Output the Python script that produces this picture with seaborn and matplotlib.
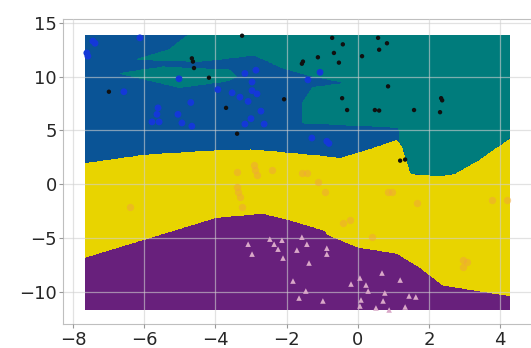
import numpy as np
import pandas as pd
import matplotlib
matplotlib.use("Agg")
import matplotlib.pyplot as plt
from matplotlib.colors import ListedColormap
from matplotlib.path import Path
import seaborn as sns

# region colours: purple, yellow, blue, teal
region_colors = ["#68207c", "#e8d400", "#0a5496", "#007c7c"]

# boundary between purple (below) and yellow (above)
purple_top_x = [-7.7, -3.96, -2.66, -1.9, -0.9, -0.87, -0.02, 1.1, 1.75, 2.4, 3.24, 4.3]
purple_top_y = [-6.8, -3.05, -2.7, -3.3, -4.3, -4.6, -5.8, -6.4, -7.7, -9.35, -9.8, -10.35]

# boundary between yellow (below) and blue/teal (above)
yellow_top_x = [-7.7, -6.0, -4.0, -3.0, -2.0, -1.0, -0.5, 0.4, 1.1, 1.25, 1.5, 2.3, 2.7, 3.35, 4.3]
yellow_top_y = [2.0, 2.8, 3.2, 3.3, 3.0, 2.7, 2.5, 3.4, 4.2, 3.6, 1.0, 0.8, 1.0, 2.2, 4.4]

# teal areas inside the upper part
teal_main_x = [-4.71, 4.4, 4.4, 1.2, 1.15, -0.22, -1.54, -1.54, -1.26, -0.3, -1.34, -2.1, -2.9, -4.5, -6.2, -5.3, -4.71]
teal_main_y = [14.0, 14.0, -1.0, -1.0, 5.3, 5.5, 5.7, 7.6, 9.0, 9.4, 10.1, 10.8, 12.0, 11.4, 11.6, 12.5, 14.0]
teal_tongue_x = [-6.68, -5.47, -3.6, -3.4, -3.67, -5.0]
teal_tongue_y = [10.3, 10.9, 10.6, 10.0, 9.6, 9.0]

# sample points
blue_x = [-7.44, -7.38, -7.61, -7.58, -6.12, -5.02, -6.57, -5.61, -5.64, -5.78, -5.58, -5.05, -4.94,
          -4.69, -4.66, -3.93, -3.53, -3.31, -3.17, -2.86, -2.97, -2.97, -2.83, -3.08, -2.72, -3.0,
          -3.17, -2.63, -1.06, -1.40, -1.29, -0.87, -0.81]
blue_y = [13.3, 13.1, 12.2, 11.9, 13.6, 9.8, 8.6, 7.1, 6.5, 5.8, 5.8, 6.5, 5.7,
          7.6, 5.4, 8.8, 8.5, 8.1, 10.3, 10.6, 9.5, 8.7, 8.4, 7.7, 6.8, 6.1,
          5.6, 5.6, 10.4, 9.7, 4.3, 4.0, 3.8]

black_x = [-3.25, -4.66, -4.63, -4.60, -6.99, -4.18, -3.70, -3.39, -2.07, -0.72, -0.42, -0.67, -0.53,
           -1.54, -1.57, -1.12, 0.57, 0.82, 0.60, 0.12, 0.85, -0.44, -0.30, 0.48, 0.60, 1.58,
           2.34, 2.37, 2.31, 1.19, 1.33]
black_y = [13.8, 11.7, 11.4, 10.8, 8.6, 9.9, 7.1, 4.7, 7.9, 13.6, 13.0, 12.2, 11.3,
           11.4, 11.2, 11.8, 13.6, 13.1, 12.5, 11.9, 9.1, 8.0, 6.9, 6.9, 6.85, 6.9,
           8.0, 7.8, 6.7, 2.2, 2.3]

orange_x = [-3.39, -2.89, -2.83, -2.41, -3.39, -3.37, -1.57, -1.43, -1.12, -0.92, -2.92, -6.40, -3.31,
            0.85, 0.96, 1.66, -0.42, -0.22, 0.40, 2.96, 2.96, 3.07, 3.77, 4.19, -3.25]
orange_y = [1.11, 1.30, 0.83, 1.30, -0.28, -0.74, 1.02, 1.02, 0.19, -0.74, 1.76, -2.13, -1.20,
            -0.74, -0.74, -1.76, -3.61, -3.33, -4.91, -7.04, -7.69, -7.22, -1.48, -1.48, -2.13]

tri_x = [-3.08, -2.97, -2.47, -2.35, -2.24, -2.13, -2.10, -1.71, -1.57, -1.43, -1.37, -0.87, -0.87,
         -1.82, -1.46, -1.65, -0.98, -0.19, 0.06, 0.23, 0.29, 0.09, 0.06, 0.68, 0.76, 0.71,
         0.51, 0.88, 1.19, 1.33, 1.44, 1.63]
tri_y = [-5.56, -6.48, -5.09, -5.56, -6.02, -5.19, -6.85, -6.11, -4.91, -5.56, -7.31, -5.93, -6.48,
         -8.98, -9.91, -10.56, -10.83, -9.26, -8.70, -9.35, -9.91, -10.74, -11.30, -8.24, -10.09, -10.83,
         -11.48, -11.67, -8.89, -11.39, -10.37, -10.46]

# build class grid
xs = np.linspace(-7.65, 4.25, 700)
ys = np.linspace(-11.6, 13.8, 700)
gx, gy = np.meshgrid(xs, ys)
pts = np.column_stack([gx.ravel(), gy.ravel()])
teal = Path(np.column_stack([teal_main_x, teal_main_y])).contains_points(pts)
teal |= Path(np.column_stack([teal_tongue_x, teal_tongue_y])).contains_points(pts)
teal = teal.reshape(gx.shape)
labels = np.where(teal, 3, 2)
labels = np.where(gy < np.interp(gx, yellow_top_x, yellow_top_y), 1, labels)
labels = np.where(gy < np.interp(gx, purple_top_x, purple_top_y), 0, labels)

sns.set_style("whitegrid", {"xtick.bottom": True, "ytick.left": True,
                            "axes.edgecolor": ".75", "grid.color": ".8"})
plt.rcParams["font.family"] = ["DejaVu Sans"]

fig = plt.figure(figsize=(5.31, 3.48), dpi=100)
ax = fig.add_axes([0.1186, 0.068, 0.8814, 0.877])

ax.contourf(gx, gy, labels, levels=[-0.5, 0.5, 1.5, 2.5, 3.5],
            cmap=ListedColormap(region_colors), zorder=1)

df = pd.concat([
    pd.DataFrame({"x": tri_x, "y": tri_y, "cls": "a"}),
    pd.DataFrame({"x": orange_x, "y": orange_y, "cls": "b"}),
    pd.DataFrame({"x": blue_x, "y": blue_y, "cls": "c"}),
    pd.DataFrame({"x": black_x, "y": black_y, "cls": "d"}),
])
sns.scatterplot(data=df[df.cls == "b"], x="x", y="y", color="#f0a83a", s=28,
                linewidth=0, alpha=0.55, legend=False, ax=ax, zorder=3)
sns.scatterplot(data=df[df.cls != "b"], x="x", y="y", hue="cls", style="cls", size="cls",
                palette={"a": "#d9a8c8", "c": "#1438d8", "d": "#101010"},
                markers={"a": "^", "c": "o", "d": "o"},
                sizes={"a": 16, "c": 24, "d": 10},
                linewidth=0, legend=False, ax=ax, zorder=3)

ax.set_xlim(-8.28, 4.865)
ax.set_ylim(-13.0, 15.34)
ax.set_xticks([-8, -6, -4, -2, 0, 2, 4])
ax.set_yticks([-10, -5, 0, 5, 10, 15])
ax.set_axisbelow(False)
ax.grid(True, color="#d0d0d0", alpha=0.6, linewidth=0.9)
ax.tick_params(labelsize=13, length=3, width=0.8, color=".6", pad=1.5)
ax.set_xlabel("")
ax.set_ylabel("")
ax.spines["right"].set_visible(False)

fig.savefig("out.png", dpi=100)
